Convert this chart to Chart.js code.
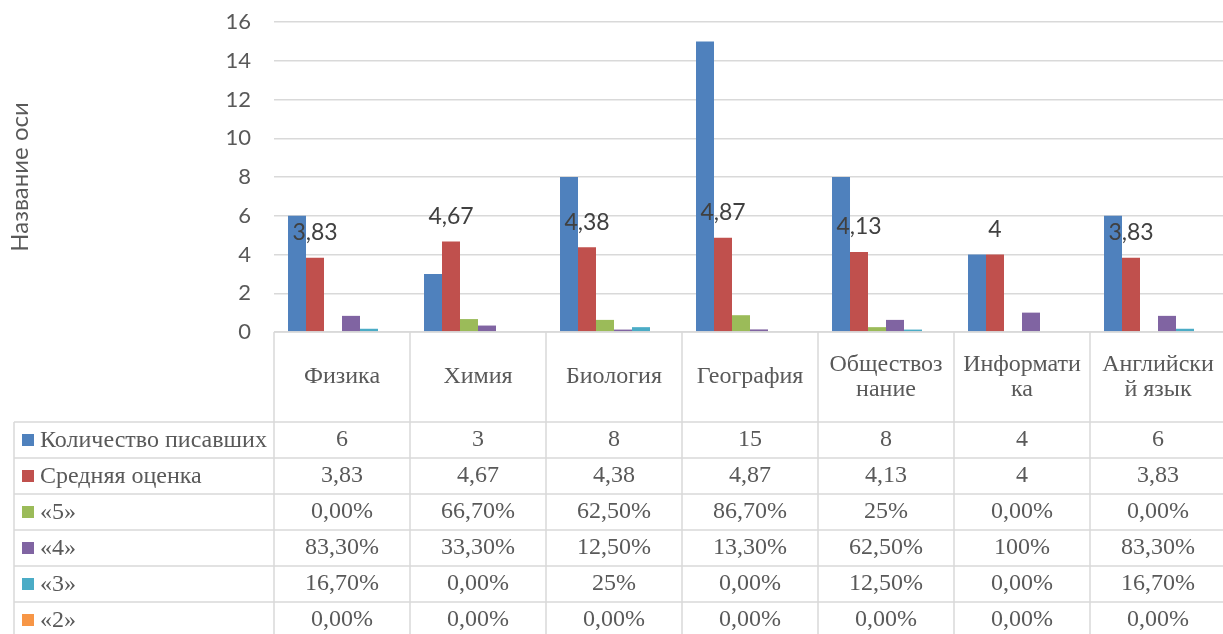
<!DOCTYPE html>
<html><head><meta charset="utf-8">
<script src="https://cdn.jsdelivr.net/npm/chart.js@4.4.1/dist/chart.umd.min.js"></script>
<style>
html,body{margin:0;padding:0;overflow:hidden;background:#fff}
#wrap{width:1228px;height:634px;position:relative}
</style>
</head><body><div id="wrap"><canvas id="c"></canvas></div>
<script>
const categories = [["Физика"],["Химия"],["Биология"],["География"],["Обществоз","нание"],["Информати","ка"],["Английски","й язык"]];
const seriesNames = ["Количество писавших","Средняя оценка","«5»","«4»","«3»","«2»"];
const seriesColors = ["#4f81bd","#c0504d","#9bbb59","#8064a2","#4bacc6","#f79646"];

const countValues = [6, 3, 8, 15, 8, 4, 6];
const avgValues   = [3.83, 4.67, 4.38, 4.87, 4.13, 4, 3.83];
const grade5      = [0, 0.667, 0.625, 0.867, 0.25, 0, 0];
const grade4      = [0.833, 0.333, 0.125, 0.133, 0.625, 1, 0.833];
const grade3      = [0.167, 0, 0.25, 0, 0.125, 0, 0.167];
const grade2      = [0, 0, 0, 0, 0, 0, 0];

const countText  = ["6","3","8","15","8","4","6"];
const avgText    = ["3,83","4,67","4,38","4,87","4,13","4","3,83"];
const grade5Text = ["0,00%","66,70%","62,50%","86,70%","25%","0,00%","0,00%"];
const grade4Text = ["83,30%","33,30%","12,50%","13,30%","62,50%","100%","83,30%"];
const grade3Text = ["16,70%","0,00%","25%","0,00%","12,50%","0,00%","16,70%"];
const grade2Text = ["0,00%","0,00%","0,00%","0,00%","0,00%","0,00%","0,00%"];

const yTicks = [0, 2, 4, 6, 8, 10, 12, 14, 16];
const axisTitle = "Название оси";

const seriesValues = [countValues, avgValues, grade5, grade4, grade3, grade2];
const tableRows = [countText, avgText, grade5Text, grade4Text, grade3Text, grade2Text];

const GRID = "#d9d9d9";
const TXT = "#595959";
const SERIF = "'Liberation Serif', 'Times New Roman', serif";
const SANS = "Lato, 'Open Sans', sans-serif";

const avgLabelPlugin = {
  id: 'avgLabels',
  afterDatasetsDraw(chart) {
    const meta = chart.getDatasetMeta(1);
    const ctx = chart.ctx;
    ctx.save();
    ctx.font = "23px " + SANS;
    ctx.fillStyle = "#404040";
    ctx.textAlign = "center";
    ctx.textBaseline = "middle";
    meta.data.forEach((el, i) => {
      const t = String(avgValues[i]).replace('.', ',');
      ctx.fillText(t, el.x, el.y - 25);
    });
    ctx.restore();
  }
};

const tablePlugin = {
  id: 'dataTable',
  afterDraw(chart) {
    const ctx = chart.ctx;
    const ca = chart.chartArea;
    const xs = chart.scales.x;
    const n = categories.length;
    const catW = xs.getPixelForValue(1) - xs.getPixelForValue(0);
    const bounds = [];
    for (let i = 0; i < n; i++) bounds.push(xs.getPixelForValue(i) - catW / 2);
    bounds.push(xs.getPixelForValue(n - 1) + catW / 2);
    const headerH = 90, rowH = 36, tableLeft = 14;
    const rowsTop = ca.bottom + headerH;
    const bottom = chart.height + 40;
    ctx.save();
    ctx.strokeStyle = GRID;
    ctx.lineWidth = 1.5;
    ctx.beginPath();
    ctx.moveTo(ca.left, ca.bottom); ctx.lineTo(bounds[n] + 2, ca.bottom);
    for (let r = 0; r <= tableRows.length; r++) {
      const y = rowsTop + r * rowH;
      ctx.moveTo(tableLeft, y); ctx.lineTo(bounds[n] + 2, y);
    }
    ctx.moveTo(tableLeft, rowsTop); ctx.lineTo(tableLeft, bottom);
    bounds.forEach(b => { ctx.moveTo(b, ca.bottom); ctx.lineTo(b, bottom); });
    ctx.stroke();

    ctx.fillStyle = TXT;
    ctx.font = "24px " + SERIF;
    ctx.textAlign = "center";
    ctx.textBaseline = "middle";
    const hc = ca.bottom + headerH / 2;
    categories.forEach((lines, i) => {
      const x = xs.getPixelForValue(i);
      const lh = 25;
      const y0 = hc - (lines.length - 1) * lh / 2;
      lines.forEach((l, k) => ctx.fillText(l, x, y0 + k * lh));
    });
    tableRows.forEach((row, r) => {
      const yc = rowsTop + r * rowH + rowH / 2;
      row.forEach((t, i) => ctx.fillText(t, xs.getPixelForValue(i), yc));
    });
    ctx.textAlign = "left";
    seriesNames.forEach((name, r) => {
      const yc = rowsTop + r * rowH + rowH / 2;
      ctx.fillStyle = seriesColors[r];
      ctx.fillRect(22, yc - 6, 12, 12);
      ctx.fillStyle = TXT;
      ctx.fillText(name, 40, yc + 1);
    });
    ctx.restore();
  }
};

new Chart(document.getElementById('c'), {
  type: 'bar',
  data: {
    labels: categories,
    datasets: seriesNames.map((name, i) => ({
      label: name,
      data: seriesValues[i],
      backgroundColor: seriesColors[i],
      borderWidth: 0,
      barPercentage: 1,
      categoryPercentage: 0.794
    }))
  },
  options: {
    responsive: true,
    maintainAspectRatio: false,
    animation: false,
    layout: { padding: { top: 22, right: 2, bottom: 302, left: 0 } },
    plugins: { legend: { display: false }, tooltip: { enabled: false } },
    scales: {
      x: { display: false },
      y: {
        min: 0, max: 16,
        afterBuildTicks(scale) { scale.ticks = yTicks.map(v => ({ value: v })); },
        afterFit(scale) { scale.width = 274; scale.paddingTop = 0; scale.paddingBottom = 0; },
        border: { display: false },
        grid: { color: GRID, lineWidth: 1.5, drawTicks: false },
        ticks: { color: TXT, font: { family: SANS, size: 22 }, padding: 23 },
        title: { display: true, text: axisTitle, color: TXT, font: { family: SANS, size: 24 }, padding: { top: 6, bottom: 0 } }
      }
    }
  },
  plugins: [avgLabelPlugin, tablePlugin]
});
</script>
</body></html>
